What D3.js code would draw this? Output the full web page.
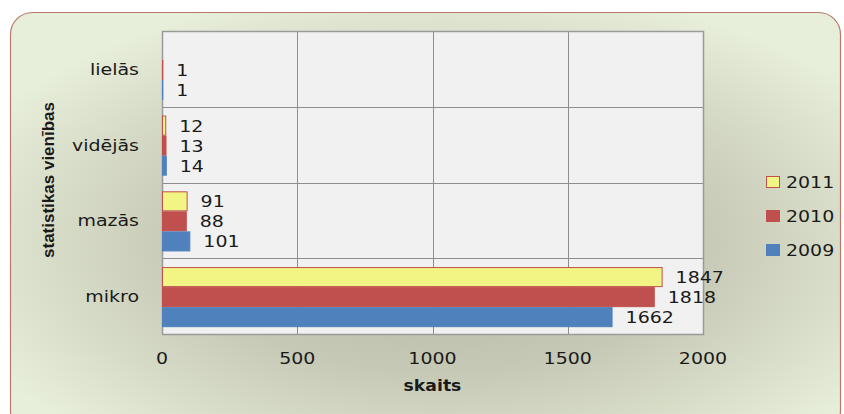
<!DOCTYPE html>
<html>
<head>
<meta charset="utf-8">
<script src="https://cdn.jsdelivr.net/npm/d3@7"></script>
<style>
	body { margin: 0; background: #fff; }
	text { font-family: "DejaVu Sans", sans-serif; fill: #1a1a1a; }
</style>
</head>
<body>
<svg id="chart"></svg>
<script>
/* Data */

var categories = ["lielās", "vidējās", "mazās", "mikro"];
var years      = ["2011", "2010", "2009"];
var values2011 = [null, 12, 91, 1847];
var values2010 = [1, 13, 88, 1818];
var values2009 = [1, 14, 101, 1662];
var xTicks     = [0, 500, 1000, 1500, 2000];

var SERIES = [
	 {year: years[0], values: values2011, fill: "#f2f584", stroke: "#c0504d"}
	,{year: years[1], values: values2010, fill: "#c0504d", stroke: "#c0504d"}
	,{year: years[2], values: values2009, fill: "#4f81bd", stroke: "#4f81bd"}
];

/* Measures */

var W = 844,
    H = 414;

var PLOT = {left: 162, right: 703, top: 31, bottom: 334};

var LABEL_GAP   = 14,
    FONT_SIZE   = 16.5,
    STRETCH     = 1.15,   // the reference text is drawn a bit wide
    LEGEND_X    = 766,
    LEGEND_Y    = 176,
    LEGEND_STEP = 34;

var svg = d3.select("#chart").attr("width", W).attr("height", H);

// text placed at (px, py), stretched horizontally around its anchor
function wideText(sel, px, py) {
	return sel.attr("transform", function(d, i) {
		return "translate(" + px(d, i) + " " + py(d, i) + ") scale(" + STRETCH + " 1)";
	});
}

/* Background */

var defs = svg.append("defs");
var grad = defs.append("radialGradient")
	.attr("id", "bg")
	.attr("cx", 0.52).attr("cy", 0.55).attr("r", 0.62);
grad.append("stop").attr("offset", "0").attr("stop-color", "#b2b5a2");
grad.append("stop").attr("offset", "0.5").attr("stop-color", "#c6c9b5");
grad.append("stop").attr("offset", "1").attr("stop-color", "#e7eed9");

svg.append("rect")
	.attr("x", 10.5).attr("y", 12.5)
	.attr("width", 830).attr("height", 420)
	.attr("rx", 22).attr("ry", 22)
	.attr("fill", "url(#bg)")
	.attr("stroke", "#b9786c")
	.attr("stroke-width", 1.2);

/* Scales */

var x = d3.scaleLinear().domain([0, 2000]).range([PLOT.left, PLOT.right]);
var y = d3.scaleBand().domain(categories).range([PLOT.top, PLOT.bottom]);
var ySub = d3.scaleBand().domain(years).range([0, y.bandwidth()]).paddingOuter(0.39);

/* Plot area */

svg.append("rect")
	.attr("x", PLOT.left).attr("y", PLOT.top)
	.attr("width", PLOT.right - PLOT.left).attr("height", PLOT.bottom - PLOT.top)
	.attr("fill", "#f1f1f1");

svg.append("g").selectAll("line.v")
	.data(xTicks.slice(1, -1))
	.enter().append("line")
	.attr("x1", function(d) { return Math.round(x(d)) + 0.5; })
	.attr("x2", function(d) { return Math.round(x(d)) + 0.5; })
	.attr("y1", PLOT.top).attr("y2", PLOT.bottom)
	.attr("stroke", "#8e8e8e");

svg.append("g").selectAll("line.h")
	.data(categories.slice(1))
	.enter().append("line")
	.attr("x1", PLOT.left).attr("x2", PLOT.right)
	.attr("y1", function(d) { return Math.round(y(d)) + 0.5; })
	.attr("y2", function(d) { return Math.round(y(d)) + 0.5; })
	.attr("stroke", "#8e8e8e");

svg.append("rect")
	.attr("x", PLOT.left + 0.5).attr("y", PLOT.top + 0.5)
	.attr("width", PLOT.right - PLOT.left).attr("height", PLOT.bottom - PLOT.top)
	.attr("fill", "none")
	.attr("stroke", "#9a9a9a")
	.attr("stroke-width", 1.5);

/* Bars and value labels */

SERIES.forEach(function(s) {
	var rows = categories.map(function(c, i) { return {cat: c, v: s.values[i]}; })
		.filter(function(d) { return d.v !== null; });

	svg.append("g").selectAll("rect")
		.data(rows)
		.enter().append("rect")
		.attr("x", x(0) + 0.5)
		.attr("y", function(d) { return y(d.cat) + ySub(s.year) + 1.5; })
		.attr("width", function(d) { return x(d.v) - x(0); })
		.attr("height", ySub.bandwidth() - 1)
		.attr("fill", s.fill)
		.attr("stroke", s.stroke)
		.attr("stroke-width", 1);

	wideText(svg.append("g").selectAll("text")
		.data(rows)
		.enter().append("text"),
			function(d) { return x(d.v) + LABEL_GAP; },
			function(d) { return y(d.cat) + ySub(s.year) + ySub.bandwidth() / 2 + 1; })
		.attr("dy", "0.36em")
		.style("font-size", FONT_SIZE + "px")
		.text(function(d) { return d.v; });
});

/* Axes labels */

wideText(svg.append("g").selectAll("text")
	.data(categories)
	.enter().append("text"),
		function() { return PLOT.left - 23; },
		function(d) { return y(d) + y.bandwidth() / 2; })
	.attr("dy", "0.36em")
	.attr("text-anchor", "end")
	.style("font-size", FONT_SIZE + "px")
	.text(String);

wideText(svg.append("g").selectAll("text")
	.data(xTicks)
	.enter().append("text"),
		function(d) { return x(d); },
		function() { return 364; })
	.attr("text-anchor", "middle")
	.style("font-size", FONT_SIZE + "px")
	.text(String);

svg.append("text")
	.attr("transform", "translate(" + ((PLOT.left + PLOT.right) / 2) + " 391) scale(" + STRETCH + " 1)")
	.attr("text-anchor", "middle")
	.style("font-size", "15px")
	.style("font-weight", "bold")
	.text("skaits");

svg.append("text")
	.attr("transform", "translate(54 180) rotate(-90)")
	.attr("text-anchor", "middle")
	.style("font-family", "'Liberation Sans Narrow', sans-serif")
	.style("font-size", "17px")
	.style("font-weight", "bold")
	.text("statistikas vienības");

/* Legend */

var legend = svg.append("g").attr("transform", "translate(" + LEGEND_X + " " + LEGEND_Y + ")");

legend.selectAll("rect")
	.data(SERIES)
	.enter().append("rect")
	.attr("x", 0.5)
	.attr("y", function(d, i) { return i * LEGEND_STEP + 0.5; })
	.attr("width", 13).attr("height", 11)
	.attr("fill", function(d) { return d.fill; })
	.attr("stroke", function(d) { return d.stroke; });

wideText(legend.selectAll("text")
	.data(SERIES)
	.enter().append("text"),
		function() { return 20; },
		function(d, i) { return i * LEGEND_STEP + 6; })
	.attr("dy", "0.36em")
	.style("font-size", FONT_SIZE + "px")
	.text(function(d) { return d.year; });
</script>
</body>
</html>
